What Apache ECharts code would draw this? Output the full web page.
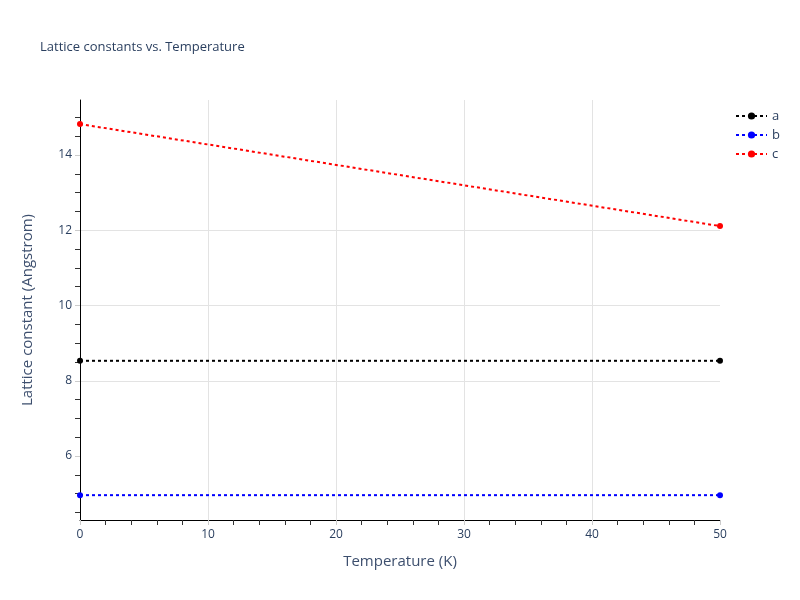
<!DOCTYPE html>
<html>
<head>
<meta charset="utf-8">
<script src="https://cdn.jsdelivr.net/npm/echarts@6/dist/echarts.min.js"></script>
<style>html,body{margin:0;padding:0;background:#fff}#c{width:800px;height:600px}</style>
</head>
<body>
<div id="c"></div>
<script>
const temperatures = [0, 50];
const aVals = [8.53, 8.53];
const bVals = [4.96, 4.96];
const cVals = [14.82, 12.11];
const seriesNames = ['a', 'b', 'c'];
const seriesColors = ['#000000', '#0000ff', '#ff0000'];
const yMajorTicks = [6, 8, 10, 12, 14];
const yMinorTicks = [4.5, 5, 5.5, 6.5, 7, 7.5, 8.5, 9, 9.5, 10.5, 11, 11.5, 12.5, 13, 13.5, 14.5, 15];

const font = '"Open Sans", verdana, arial, sans-serif';
const txt = '#2a3f5f';
const chart = echarts.init(document.getElementById('c'), null, {renderer: 'canvas'});
const allVals = [aVals, bVals, cVals];
chart.setOption({
  animation: false,
  backgroundColor: '#fff',
  title: {
    text: 'Lattice constants vs. Temperature',
    left: 35, top: 36,
    textStyle: {fontFamily: font, fontSize: 13, fontWeight: 'normal', color: txt}
  },
  legend: {
    orient: 'vertical', left: 730, top: 104,
    itemWidth: 31, itemHeight: 9, itemGap: 5,
    textStyle: {fontFamily: font, fontSize: 13, color: txt, lineHeight: 14},
    data: seriesNames
  },
  grid: {left: 80, right: 80, top: 100, bottom: 80, containLabel: false},
  xAxis: [{
    type: 'value', min: 0, max: 50, interval: 10,
    name: 'Temperature (K)', nameLocation: 'middle', nameGap: 34,
    nameTextStyle: {fontFamily: font, fontSize: 15, color: '#3d4f6e'},
    axisLine: {show: true, lineStyle: {color: '#000', width: 1}},
    axisTick: {show: true, length: 5, lineStyle: {color: '#ccc'}},
    minorTick: {show: true, splitNumber: 5, length: 5, lineStyle: {color: '#333'}},
    axisLabel: {fontFamily: font, fontSize: 12, color: txt, margin: 9},
    splitLine: {show: true, showMinLine: false, showMaxLine: false, lineStyle: {color: '#e3e3e3', width: 1}},
    minorSplitLine: {show: false}
  }],
  yAxis: [{
    type: 'value', min: 4.30, max: 15.46,
    name: 'Lattice constant (Angstrom)', nameLocation: 'middle', nameGap: 45,
    nameTextStyle: {fontFamily: font, fontSize: 15, color: '#3d4f6e'},
    axisLine: {show: true, lineStyle: {color: '#000', width: 1}},
    axisTick: {show: true, length: 5, customValues: yMajorTicks, lineStyle: {color: '#ccc'}},
    axisLabel: {fontFamily: font, fontSize: 12, color: txt, margin: 8, customValues: yMajorTicks},
    splitLine: {show: true, showMinLine: false, showMaxLine: false, lineStyle: {color: '#e3e3e3', width: 1}}
  }, {
    type: 'value', min: 4.30, max: 15.46, position: 'left',
    axisLine: {show: false},
    axisTick: {show: true, length: 5, customValues: yMinorTicks, lineStyle: {color: '#333'}},
    axisLabel: {show: false},
    splitLine: {show: false}
  }],
  series: seriesNames.map((n, i) => ({
    name: n, type: 'line', xAxisIndex: 0, yAxisIndex: 0,
    data: temperatures.map((t, j) => [t, allVals[i][j]]),
    symbol: 'circle', symbolSize: 6, showSymbol: true,
    itemStyle: {color: seriesColors[i]},
    lineStyle: {color: seriesColors[i], width: 2, type: [3, 3]},
    clip: false
  }))
});
</script>
</body>
</html>
